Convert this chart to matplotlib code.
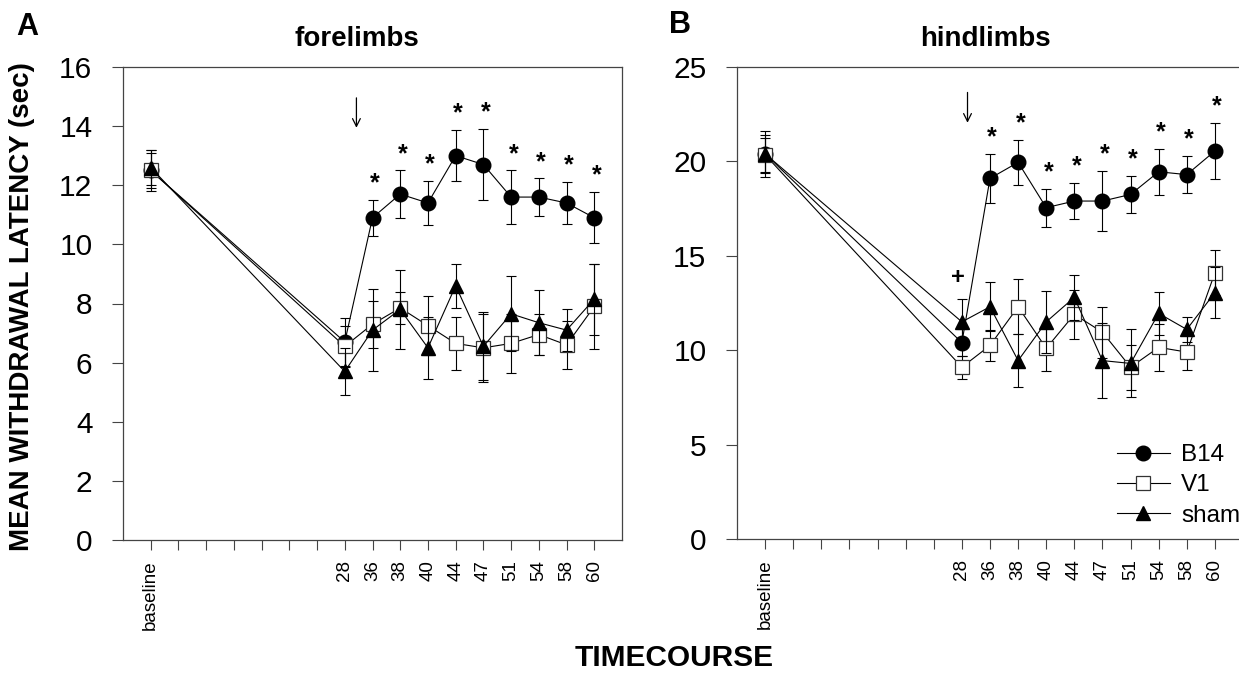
import matplotlib
matplotlib.use("Agg")
import matplotlib.pyplot as plt
import numpy as np

plt.rcParams['font.family'] = ['Liberation Sans', 'DejaVu Sans']

# ---------------- data ----------------
timepoints = ['baseline', '28', '36', '38', '40', '44', '47', '51', '54', '58', '60']

# forelimbs (panel A)
fore_b14 = [12.5, 6.7, 10.9, 11.7, 11.4, 13.0, 12.7, 11.6, 11.6, 11.4, 10.9]
fore_b14_err = [0.7, 0.8, 0.6, 0.8, 0.75, 0.87, 1.2, 0.9, 0.63, 0.7, 0.86]
fore_v1 = [12.5, 6.55, 7.3, 7.85, 7.25, 6.65, 6.5, 6.65, 6.95, 6.6, 7.9]
fore_v1_err = [0.6, 0.7, 0.8, 0.55, 1.0, 0.9, 1.15, 1.0, 0.7, 0.8, 1.45]
fore_sham = [12.6, 5.7, 7.1, 7.8, 6.5, 8.6, 6.55, 7.65, 7.35, 7.1, 8.15]
fore_sham_err = [0.6, 0.8, 1.4, 1.35, 1.05, 0.75, 1.15, 1.27, 1.1, 0.7, 1.2]

# hindlimbs (panel B)
hind_b14 = [20.4, 10.4, 19.1, 19.95, 17.55, 17.9, 17.9, 18.25, 19.45, 19.3, 20.55]
hind_b14_err = [1.0, 0.7, 1.3, 1.2, 1.0, 0.97, 1.6, 0.97, 1.22, 1.0, 1.5]
hind_v1 = [20.35, 9.1, 10.25, 12.3, 10.1, 11.9, 10.95, 9.1, 10.15, 9.9, 14.1]
hind_v1_err = [0.9, 0.6, 0.8, 1.45, 1.2, 1.3, 1.36, 1.2, 1.25, 0.95, 1.2]
hind_sham = [20.4, 11.5, 12.3, 9.45, 11.5, 12.8, 9.45, 9.3, 11.95, 11.1, 13.05]
hind_sham_err = [1.2, 1.2, 1.3, 1.4, 1.65, 1.2, 2.0, 1.8, 1.13, 0.66, 1.37]

# significance markers: '*' for B14 at 36..60, '+' for sham at 28 (hindlimbs)
fore_star_idx = [2, 3, 4, 5, 6, 7, 8, 9, 10]
hind_star_idx = [2, 3, 4, 5, 6, 7, 8, 9, 10]
hind_plus_idx = [1]

fore_yticks = [0, 2, 4, 6, 8, 10, 12, 14, 16]
hind_yticks = [0, 5, 10, 15, 20, 25]

# ---------------- layout ----------------
W, H = 1239, 676
fig = plt.figure(figsize=(W / 100, H / 100), dpi=100)

gap = 6  # empty slots between baseline and day 28
xpos = np.array([0] + list(range(1 + gap, 1 + gap + len(timepoints) - 1)))
all_ticks = np.arange(0, xpos[-1] + 1)
tick_labels = []
for t in all_ticks:
    if t in xpos:
        tick_labels.append(timepoints[list(xpos).index(t)])
    else:
        tick_labels.append('')


def frac_axes(l, r, t, b):
    return [l / W, 1 - b / H, (r - l) / W, (b - t) / H]


axA = fig.add_axes(frac_axes(123, 622, 67, 540))
axB = fig.add_axes(frac_axes(737, 1243, 67, 539))

spine_col = '#444444'


def draw_panel(ax, b14, b14e, v1, v1e, sh, she, ymax, yticks):
    ekw = dict(fmt='none', ecolor='black', elinewidth=0.8, capsize=3.5, capthick=0.8)
    ax.errorbar(xpos, b14, yerr=b14e, zorder=3, **ekw)
    ax.plot(xpos, b14, color='black', lw=0.8, marker='o', ms=10.5, mfc='black',
            mec='black', label='B14', zorder=3)
    ax.errorbar(xpos, v1, yerr=v1e, zorder=4, **ekw)
    ax.plot(xpos, v1, color='black', lw=0.8, marker='s', ms=9.5, mfc='white',
            mec='#333333', mew=0.9, label='V1', zorder=4)
    ax.errorbar(xpos, sh, yerr=she, zorder=5, **ekw)
    ax.plot(xpos, sh, color='black', lw=0.8, marker='^', ms=10.5, mfc='black',
            mec='black', label='sham', zorder=5)
    ax.set_xlim(-1, xpos[-1] + 1)
    ax.set_ylim(0, ymax)
    ax.set_yticks(yticks)
    ax.set_yticklabels([str(v) for v in yticks], fontsize=21.5)
    ax.set_xticks(all_ticks)
    ax.set_xticklabels(tick_labels, rotation=90, fontsize=13.5)
    ax.tick_params(axis='y', direction='out', length=8, width=0.8, pad=14, colors=spine_col,
                   labelcolor='black')
    ax.tick_params(axis='x', direction='out', length=7.5, width=0.8, pad=7, colors=spine_col,
                   labelcolor='black')
    for s in ax.spines.values():
        s.set_color(spine_col)
        s.set_linewidth(0.9)


draw_panel(axA, fore_b14, fore_b14_err, fore_v1, fore_v1_err, fore_sham, fore_sham_err,
           16, fore_yticks)
draw_panel(axB, hind_b14, hind_b14_err, hind_v1, hind_v1_err, hind_sham, hind_sham_err,
           25, hind_yticks)

# significance symbols
for ax, idxs, vals, errs, ymax in [(axA, fore_star_idx, fore_b14, fore_b14_err, 16),
                                   (axB, hind_star_idx, hind_b14, hind_b14_err, 25)]:
    off = 0.035 * ymax
    for i in idxs:
        ax.text(xpos[i] + 0.08, vals[i] + errs[i] + off, '*', ha='center', va='center',
                fontsize=18, fontweight='bold')
for i in hind_plus_idx:
    axB.text(xpos[i] - 0.15, hind_sham[i] + hind_sham_err[i] + 0.045 * 25, '+',
             ha='center', va='center', fontsize=17, fontweight='bold')

# treatment arrows
axA.annotate('', xy=(7.42, 13.85), xytext=(7.42, 15.05),
             arrowprops=dict(arrowstyle='->', color='black', lw=0.9, mutation_scale=14))
axB.annotate('', xy=(7.2, 21.9), xytext=(7.2, 23.8),
             arrowprops=dict(arrowstyle='->', color='black', lw=0.9, mutation_scale=14))

# legend
axB.legend(loc='upper left', bbox_to_anchor=(0.75, 0.201), frameon=False, fontsize=17.5,
           handlelength=2.2, labelspacing=0.34, handletextpad=0.45, borderpad=0.0,
           borderaxespad=0.0)

# titles and labels
fig.text(357 / W, 1 - 39 / H, 'forelimbs', ha='center', va='center', fontsize=20,
         fontweight='bold')
fig.text(985 / W, 1 - 39 / H, 'hindlimbs', ha='center', va='center', fontsize=20,
         fontweight='bold')
fig.text(27 / W, 1 - 27 / H, 'A', ha='center', va='center', fontsize=22, fontweight='bold')
fig.text(680 / W, 1 - 25 / H, 'B', ha='center', va='center', fontsize=22, fontweight='bold')
fig.text(22 / W, 1 - 307 / H, 'MEAN WITHDRAWAL LATENCY (sec)', rotation=90, ha='center',
         va='center', fontsize=20, fontweight='bold')
fig.text(674 / W, 1 - 658 / H, 'TIMECOURSE', ha='center', va='center', fontsize=21.5,
         fontweight='bold')

fig.savefig('out.png', dpi=100)
